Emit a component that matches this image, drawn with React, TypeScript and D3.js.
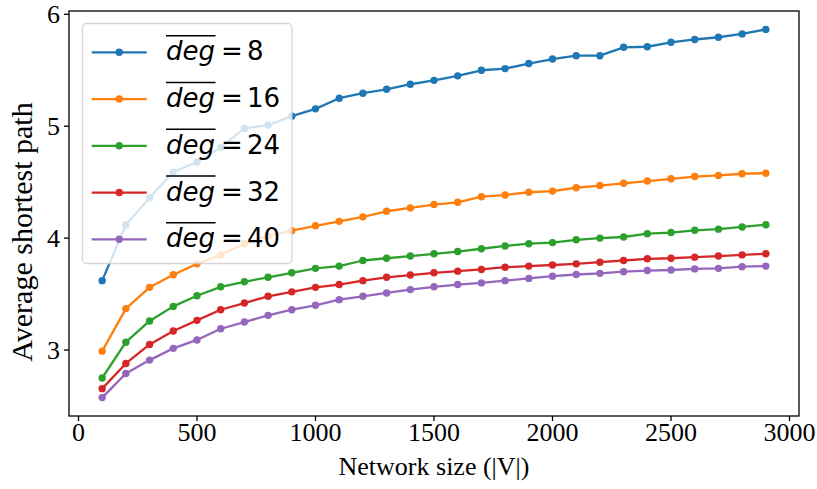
import React from 'react';
import * as d3 from 'd3';

const networkSize = [100, 200, 300, 400, 500, 600, 700, 800, 900, 1000, 1100, 1200, 1300, 1400, 1500, 1600, 1700, 1800, 1900, 2000, 2100, 2200, 2300, 2400, 2500, 2600, 2700, 2800, 2900];
const deg8 = [3.62, 4.12, 4.36, 4.59, 4.68, 4.81, 4.98, 5.01, 5.09, 5.155, 5.25, 5.295, 5.33, 5.375, 5.41, 5.45, 5.5, 5.515, 5.56, 5.6, 5.63, 5.63, 5.705, 5.71, 5.75, 5.775, 5.795, 5.825, 5.865];
const deg16 = [2.99, 3.37, 3.56, 3.673, 3.77, 3.85, 3.95, 4.02, 4.066, 4.11, 4.15, 4.19, 4.24, 4.27, 4.3, 4.32, 4.37, 4.385, 4.41, 4.42, 4.45, 4.47, 4.49, 4.51, 4.53, 4.55, 4.56, 4.575, 4.58];
const deg24 = [2.75, 3.07, 3.26, 3.39, 3.485, 3.565, 3.61, 3.65, 3.69, 3.73, 3.75, 3.8, 3.82, 3.84, 3.86, 3.88, 3.905, 3.93, 3.95, 3.96, 3.985, 4.0, 4.01, 4.04, 4.05, 4.07, 4.08, 4.1, 4.12];
const deg32 = [2.655, 2.88, 3.05, 3.17, 3.265, 3.36, 3.42, 3.48, 3.52, 3.56, 3.585, 3.62, 3.65, 3.67, 3.69, 3.705, 3.72, 3.74, 3.75, 3.76, 3.77, 3.785, 3.8, 3.815, 3.82, 3.83, 3.84, 3.85, 3.86];
const deg40 = [2.575, 2.79, 2.91, 3.015, 3.09, 3.19, 3.25, 3.31, 3.36, 3.4, 3.45, 3.48, 3.51, 3.54, 3.565, 3.585, 3.6, 3.62, 3.64, 3.66, 3.675, 3.685, 3.7, 3.71, 3.715, 3.725, 3.73, 3.745, 3.75];

const seriesLabels = ['8', '16', '24', '32', '40'];
const seriesValues = [deg8, deg16, deg24, deg32, deg40];
const seriesColors = ['#1f77b4', '#ff7f0e', '#2ca02c', '#d62728', '#9467bd'];

const xTicks = [0, 500, 1000, 1500, 2000, 2500, 3000];
const yTicks = [3, 4, 5, 6];
const xLabel = 'Network size (|V|)';
const yLabel = 'Average shortest path';

const W = 817;
const H = 489;
const plot = { left: 69, right: 799, top: 11, bottom: 416 };

export default function App() {
  const xMin = d3.min(networkSize) as number;
  const xMax = d3.max(networkSize) as number;
  const xPad = (xMax - xMin) * 0.05;
  const allY = seriesValues.flat();
  const yMin = d3.min(allY) as number;
  const yMax = d3.max(allY) as number;
  const yPad = (yMax - yMin) * 0.05;

  const x = d3.scaleLinear().domain([xMin - xPad, xMax + xPad]).range([plot.left, plot.right]);
  const y = d3.scaleLinear().domain([yMin - yPad, yMax + yPad]).range([plot.bottom, plot.top]);

  const line = d3
    .line<number>()
    .x((_, i) => x(networkSize[i]))
    .y((d) => y(d));

  const serif = "'Liberation Serif', 'Times New Roman', serif";
  const sans = "'DejaVu Sans', sans-serif";

  const legend = { x: 82.5, y: 23.5, w: 209.5, h: 240, row0: 52.3, step: 46.75 };

  return (
    <svg width={W} height={H} style={{ position: 'absolute', left: 0, top: 0, background: '#fff' }}>
      <rect x={0} y={0} width={W} height={H} fill="#fff" />
      {seriesValues.map((vals, si) => (
        <g key={si}>
          <path d={line(vals) as string} fill="none" stroke={seriesColors[si]} strokeWidth={2.3} strokeLinejoin="round" />
          {vals.map((v, i) => (
            <circle key={i} cx={x(networkSize[i])} cy={y(v)} r={3.7} fill={seriesColors[si]} />
          ))}
        </g>
      ))}
      <rect x={plot.left} y={plot.top} width={plot.right - plot.left} height={plot.bottom - plot.top} fill="none" stroke="#000" strokeWidth={1.3} />
      {xTicks.map((t) => (
        <g key={t}>
          <line x1={x(t)} x2={x(t)} y1={plot.bottom} y2={plot.bottom + 5} stroke="#000" strokeWidth={1.3} />
          <text x={x(t)} y={441} textAnchor="middle" fontFamily={serif} fontSize={26} fill="#000">
            {t}
          </text>
        </g>
      ))}
      {yTicks.map((t) => (
        <g key={t}>
          <line x1={plot.left - 5} x2={plot.left} y1={y(t)} y2={y(t)} stroke="#000" strokeWidth={1.3} />
          <text x={60} y={y(t) + 9} textAnchor="end" fontFamily={serif} fontSize={26} fill="#000">
            {t}
          </text>
        </g>
      ))}
      <text x={(plot.left + plot.right) / 2} y={475} textAnchor="middle" fontFamily={serif} fontSize={26} fill="#000">
        {xLabel}
      </text>
      <text
        transform={`translate(32, 232) rotate(-90)`}
        textAnchor="middle"
        fontFamily={serif}
        fontSize={30}
        fill="#000"
      >
        {yLabel}
      </text>
      <rect
        x={legend.x}
        y={legend.y}
        width={legend.w}
        height={legend.h}
        rx={4}
        fill="#fff"
        fillOpacity={0.8}
        stroke="#cccccc"
        strokeOpacity={0.8}
        strokeWidth={1.3}
      />
      {seriesLabels.map((lab, i) => {
        const ry = legend.row0 + i * legend.step;
        return (
          <g key={lab}>
            <line x1={91.7} x2={146.7} y1={ry} y2={ry} stroke={seriesColors[i]} strokeWidth={2.3} />
            <circle cx={119.2} cy={ry} r={3.7} fill={seriesColors[i]} />
            <line x1={166} x2={215.5} y1={ry - 16.6} y2={ry - 16.6} stroke="#000" strokeWidth={1.5} />
            <text x={166} y={ry + 8} fontFamily={sans} fontStyle="italic" fontSize={26} fill="#000">
              deg
            </text>
            <text x={221} y={ry + 8} fontFamily={sans} fontSize={26} fill="#000">
              =
            </text>
            <text x={247} y={ry + 8} fontFamily={sans} fontSize={26} fill="#000">
              {lab}
            </text>
          </g>
        );
      })}
    </svg>
  );
}
